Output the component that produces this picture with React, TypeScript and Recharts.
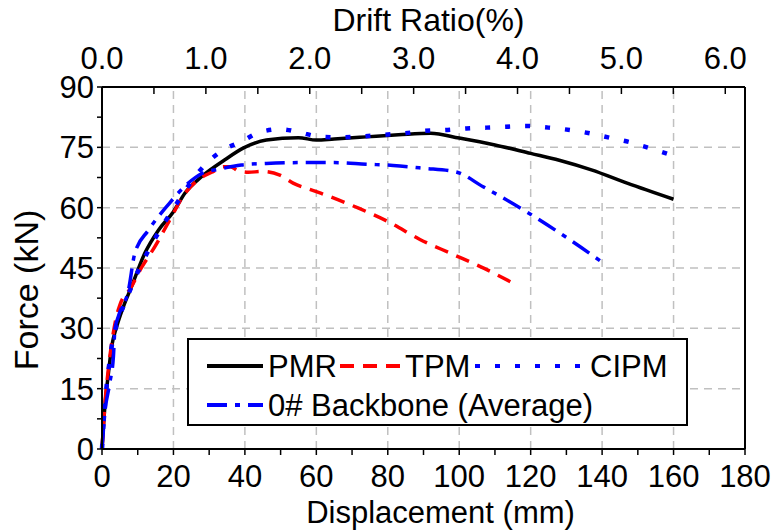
import React from 'react';
import {
  Legend,
  Line,
  LineChart,
  ReferenceLine,
  XAxis,
  YAxis,
} from 'recharts';

// [displacement mm, force kN]
const pmr = [
  [0, 0], [0.8, 10.5], [1.8, 18.8], [2.7, 25.4], [4.1, 30.4], [6, 35.4], [8, 39.8],
  [12, 48.7], [15.8, 54.4], [20, 59], [23.2, 63.6], [28, 67.8], [34.4, 71.9],
  [39.5, 74.8], [46, 76.8], [55, 77.4], [60, 76.8], [65, 77.1], [74, 77.6],
  [83, 78.1], [92, 78.5], [100, 77.3], [110, 75.6], [120, 73.5], [128, 71.8],
  [137, 69.4], [147, 66.1], [160, 62.1],
];
const tpm = [
  [0, 0], [0.8, 11], [1.8, 20], [3, 28], [4.2, 33.5], [5, 35.8], [8, 40], [11, 45],
  [14.8, 50.3], [19, 57], [23.2, 63.5], [27, 67], [30.7, 68.8], [34, 70.2], [36, 70.2],
  [38, 69.2], [41, 68.8], [44.7, 69], [49.8, 68.1], [53.5, 66.1], [60, 64], [66, 62],
  [72, 59.8], [80.6, 56.3], [89, 52.1], [98, 48.5], [107, 44.9], [116, 40.8],
];
const cipm = [
  [0, 0], [0.8, 11], [1.8, 19.5], [3, 27], [4.5, 32], [6.5, 36.5], [10, 44], [14, 51],
  [18, 57], [22, 62.5], [25, 66.5], [28.8, 70.6], [33.9, 74.3], [39, 76.4], [44, 78.7],
  [50, 79.5], [55.4, 78.7], [60.5, 77.7], [66.6, 77.5], [72.6, 77.7], [78.6, 78.1],
  [84.8, 78.5], [90.3, 79.1], [96, 79.3], [102, 79.7], [107.6, 79.9], [113, 80.1],
  [119, 80.3], [125, 79.9], [131, 79.3], [136.5, 78.5], [142, 77.4], [147.7, 76.3],
  [153.3, 74.8], [159.4, 73.1],
];
const backbone = [
  [0, 0], [0.8, 9], [2.2, 16.5], [3.2, 23], [3.6, 29.5], [4.6, 33], [7.4, 39.5],
  [9.2, 48.7], [13, 54.4], [18.5, 60.7], [24, 66], [28, 68.5], [33, 69.6], [39, 70.6],
  [46, 71], [55, 71.2], [65, 71.2], [74, 70.8], [81.5, 70.5], [90, 69.8], [99, 68.9],
  [106.7, 65.2], [118.8, 59], [131, 52], [141.2, 45.7],
];

const xTicks = [0, 10, 20, 30, 40, 50, 60, 70, 80, 90, 100, 110, 120, 130, 140, 150, 160, 170, 180];
const yTicks = [0, 7.5, 15, 22.5, 30, 37.5, 45, 52.5, 60, 67.5, 75, 82.5, 90];
const driftTicks = [0, 0.5, 1, 1.5, 2, 2.5, 3, 3.5, 4, 4.5, 5, 5.5, 6];
const xGrid = [20, 40, 60, 80, 100, 120, 140, 160];
const yGrid = [15, 30, 45, 60, 75];
const driftMax = 180 / 29.08; // drift (%) at 180 mm

const toRows = (pts: number[][]) => pts.map(([x, y]) => ({ x, y }));

const series = [
  { name: 'PMR', data: toRows(pmr), color: '#000000', dash: undefined },
  { name: 'TPM', data: toRows(tpm), color: '#ff0000', dash: '14 9' },
  { name: 'CIPM', data: toRows(cipm), color: '#0000ff', dash: '5 15' },
  { name: '0# Backbone (Average)', data: toRows(backbone), color: '#0000ff', dash: '20 8 5 8' },
];

const SANS = '"Liberation Sans", Arial, sans-serif';

const TopTick = (props: any) => {
  const { x, y, payload } = props;
  const major = Number.isInteger(payload.value);
  return (
    <g>
      <line x1={x} x2={x} y1={87} y2={94} stroke="#000" strokeWidth={1.5} />
      {major && (
        <text x={x} y={y} textAnchor="middle" fontFamily={SANS} fontSize={31} fill="#000">
          {payload.value.toFixed(1)}
        </text>
      )}
    </g>
  );
};

const LegendBox = () => {
  const sample = (x: number, y: number, len: number, s: (typeof series)[number]) => (
    <line x1={x} x2={x + len} y1={y} y2={y} stroke={s.color} strokeWidth={4} strokeDasharray={s.dash} />
  );
  return (
    <svg width={501} height={88} style={{ display: 'block' }}>
      <rect x={1} y={1} width={499} height={86} fill="#fff" stroke="#000" strokeWidth={2} />
      {sample(20, 28, 56, series[0])}
      <text x={81} y={39} fontFamily={SANS} fontSize={31}>PMR</text>
      {sample(153, 28, 60, series[1])}
      <text x={218} y={39} fontFamily={SANS} fontSize={31}>TPM</text>
      {sample(288, 28, 112, series[2])}
      <text x={403} y={39} fontFamily={SANS} fontSize={31}>CIPM</text>
      {sample(20, 67, 56, series[3])}
      <text x={81} y={78} fontFamily={SANS} fontSize={31}>0# Backbone (Average)</text>
    </svg>
  );
};

export default function App() {
  return (
    <div style={{ position: 'absolute', left: 0, top: 0, background: '#fff' }}>
      <LineChart width={774} height={532} margin={{ top: 0, right: 29, left: 0, bottom: 0 }}>
        <XAxis
          xAxisId="bottom"
          type="number"
          dataKey="x"
          domain={[0, 180]}
          ticks={xTicks}
          interval={0}
          height={83}
          tickSize={6}
          tickMargin={10}
          axisLine={{ stroke: '#000', strokeWidth: 2 }}
          tickLine={{ stroke: '#000', strokeWidth: 1.5 }}
          tick={{ fontFamily: SANS, fontSize: 31, fill: '#000' }}
          tickFormatter={(v: number) => (v % 20 === 0 ? String(v) : '')}
          label={{ value: 'Displacement (mm)', position: 'insideBottom', offset: 9, dx: 17, fontFamily: SANS, fontSize: 31, fill: '#000' }}
        />
        <XAxis
          xAxisId="top"
          orientation="top"
          type="number"
          dataKey="d"
          domain={[0, driftMax]}
          allowDataOverflow
          ticks={driftTicks}
          interval={0}
          height={87}
          tickSize={0}
          tickMargin={18}
          axisLine={{ stroke: '#000', strokeWidth: 2 }}
          tickLine={false}
          tick={<TopTick />}
          label={{ value: 'Drift Ratio(%)', position: 'insideTop', offset: 8, dx: 5, fontFamily: SANS, fontSize: 32, fill: '#000' }}
        />
        <YAxis
          type="number"
          domain={[0, 90]}
          ticks={yTicks}
          interval={0}
          width={102}
          tickSize={5}
          tickMargin={3}
          axisLine={{ stroke: '#000', strokeWidth: 2 }}
          tickLine={{ stroke: '#000', strokeWidth: 1.5 }}
          tick={{ fontFamily: SANS, fontSize: 31, fill: '#000' }}
          tickFormatter={(v: number) => (v % 15 === 0 ? String(v) : '')}
          label={{ value: 'Force (kN)', angle: -90, position: 'insideLeft', offset: 26, dy: 22, fontFamily: SANS, fontSize: 34, fill: '#000', style: { textAnchor: 'middle' } }}
        />
        {xGrid.map((v) => (
          <ReferenceLine key={'gx' + v} xAxisId="bottom" x={v} stroke="#c0c0c0" strokeWidth={1.5} strokeDasharray="8 6" />
        ))}
        {yGrid.map((v) => (
          <ReferenceLine key={'gy' + v} xAxisId="bottom" y={v} stroke="#c0c0c0" strokeWidth={1.5} strokeDasharray="8 6" />
        ))}
        <ReferenceLine xAxisId="bottom" x={180} stroke="#000" strokeWidth={2} />
        {/* invisible carrier so the drift-ratio axis gets a domain */}
        <Line
          xAxisId="top"
          data={driftTicks.map((d) => ({ d, y: 0 }))}
          dataKey="y"
          stroke="none"
          dot={false}
          activeDot={false}
          legendType="none"
          isAnimationActive={false}
        />
        {series.map((s) => (
          <Line
            key={s.name}
            xAxisId="bottom"
            data={s.data}
            dataKey="y"
            name={s.name}
            type="monotone"
            stroke={s.color}
            strokeWidth={s.dash === '5 15' ? 4.5 : 3.5}
            strokeDasharray={s.dash}
            dot={false}
            activeDot={false}
            isAnimationActive={false}
          />
        ))}
        <Legend
          layout="horizontal"
          verticalAlign="middle"
          align="center"
          wrapperStyle={{ position: 'absolute', left: 187, top: 338, width: 501, height: 88 }}
          content={() => <LegendBox />}
        />
      </LineChart>
    </div>
  );
}
